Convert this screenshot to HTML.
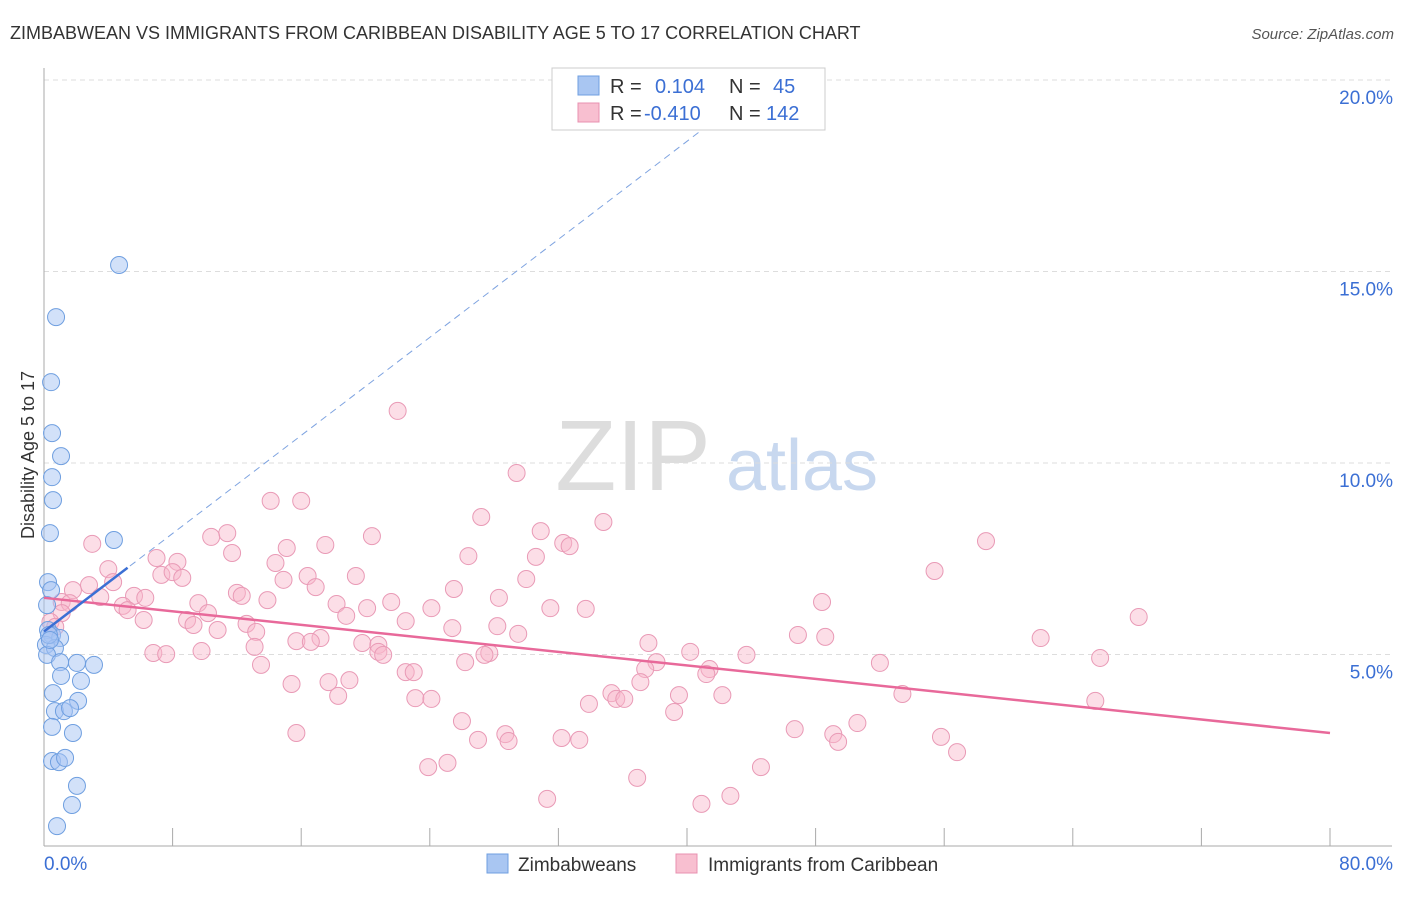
<!DOCTYPE html>
<html><head><meta charset="utf-8"><style>
body{margin:0;background:#fff;font-family:"Liberation Sans",sans-serif;}
svg text{font-family:"Liberation Sans",sans-serif;}
</style></head><body>
<svg id="chart" width="1406" height="892">
<text x="10" y="39" font-size="18" fill="#333">ZIMBABWEAN VS IMMIGRANTS FROM CARIBBEAN DISABILITY AGE 5 TO 17 CORRELATION CHART</text>
<text x="1394" y="39" font-size="15" fill="#555" font-style="italic" text-anchor="end">Source: ZipAtlas.com</text>
<g>
<text x="633" y="490" font-size="100" fill="#ddd" font-family="Liberation Serif,serif" text-anchor="middle">ZIP</text>
<text x="802" y="490" font-size="72" fill="#c8d8ef" text-anchor="middle">atlas</text>
</g>
<g id="grid"></g>
<g id="axes"></g>
<g id="points"></g>
<g id="lines"></g>
<text transform="translate(34,455) rotate(-90)" font-size="18" fill="#333" text-anchor="middle">Disability Age 5 to 17</text>
<g>
<rect x="552" y="68" width="273" height="62" fill="#fff" stroke="#ccc"/>
<rect x="578" y="76" width="21" height="19" fill="#a9c6f2" stroke="#6f9fe0"/>
<rect x="578" y="103" width="21" height="19" fill="#f8bfd0" stroke="#e890b0"/>
<text x="610" y="93" font-size="20" fill="#333">R = </text><text x="655" y="93" font-size="20" fill="#3b6fd4">0.104</text>
<text x="729" y="93" font-size="20" fill="#333">N = </text><text x="773" y="93" font-size="20" fill="#3b6fd4">45</text>
<text x="610" y="120" font-size="20" fill="#333">R = </text><text x="644" y="120" font-size="20" fill="#3b6fd4">-0.410</text>
<text x="729" y="120" font-size="20" fill="#333">N = </text><text x="766" y="120" font-size="20" fill="#3b6fd4">142</text>
</g>
<g>
<rect x="487" y="854" width="21" height="19" fill="#a9c6f2" stroke="#6f9fe0"/>
<text x="518" y="871" font-size="19" fill="#333">Zimbabweans</text>
<rect x="676" y="854" width="21" height="19" fill="#f8bfd0" stroke="#e890b0"/>
<text x="708" y="871" font-size="19" fill="#333">Immigrants from Caribbean</text>
</g>
</svg>
<script>
const yTicks=[5,10,15,20];
const yTickLabels=["5.0%","10.0%","15.0%","20.0%"];
const xTickLabels=["0.0%","80.0%"];
const blueX=[4.67,0.75,0.44,0.5,1.06,0.5,0.56,0.37,4.35,0.25,0.44,0.19,0.25,0.5,1.0,0.12,0.68,0.19,1.0,2.05,3.11,1.06,2.3,0.56,2.12,0.68,1.24,1.62,0.5,1.8,0.5,0.93,1.31,2.05,1.74,0.81,0.31,0.37];
const blueY=[15.17,13.81,12.11,10.78,10.18,9.63,9.03,8.17,7.99,6.89,6.68,6.29,5.64,5.51,5.43,5.25,5.17,4.99,4.80,4.78,4.73,4.44,4.31,3.99,3.79,3.52,3.52,3.60,3.11,2.95,2.22,2.19,2.30,1.57,1.07,0.52,5.51,5.38];
const pinkX=[22.0,29.4,14.1,16.0,27.2,34.8,30.9,11.4,10.4,20.4,32.3,32.7,3.0,58.6,17.5,15.1,11.7,7.0,26.4,30.6,8.3,14.4,4.0,55.4,7.3,8.0,8.6,19.4,30.0,16.4,4.3,14.9,2.8,25.5,16.9,1.8,12.0,12.3,28.3,5.6,6.3,3.5,1.1,1.6,4.9,13.9,21.6,48.4,9.6,5.2,31.5,33.7,24.1,18.2,20.1,10.2,1.1,6.2,18.8,8.9,9.3,12.6,22.5,68.1,10.8,25.4,28.2,13.2,0.4,0.7,17.2,29.5,62.0,46.9,48.6,37.6,19.8,20.8,15.7,16.6,6.8,7.6,9.8,13.1,20.8,21.1,27.7,27.4,43.7,40.2,26.2,38.1,52.0,65.7,13.5,22.5,23.0,37.4,41.4,41.2,15.4,17.7,19.0,37.1,35.3,35.6,36.1,23.1,24.1,18.3,39.5,42.2,53.4,33.9,65.4,26.0,50.6,39.2,15.7,28.7,28.9,27.0,32.2,33.3,46.7,49.1,55.8,49.4,56.8,23.9,25.1,44.6,36.9,31.3,40.9,42.7];
const pinkY=[11.36,9.74,9.01,9.01,8.59,8.46,8.22,8.17,8.07,8.09,7.91,7.83,7.89,7.96,7.86,7.78,7.65,7.52,7.57,7.55,7.42,7.39,7.23,7.18,7.08,7.15,7.00,7.05,6.97,7.05,6.89,6.95,6.81,6.71,6.76,6.68,6.61,6.53,6.48,6.53,6.48,6.50,6.37,6.34,6.27,6.42,6.37,6.37,6.34,6.16,6.21,6.19,6.21,6.32,6.21,6.08,6.08,5.90,6.01,5.90,5.77,5.80,5.87,5.98,5.64,5.69,5.74,5.59,5.85,5.72,5.43,5.54,5.43,5.51,5.46,5.30,5.30,5.25,5.35,5.33,5.04,5.01,5.09,5.20,5.07,4.99,5.04,4.99,4.99,5.07,4.80,4.80,4.78,4.91,4.73,4.54,4.54,4.62,4.62,4.49,4.23,4.28,4.33,4.28,3.99,3.84,3.84,3.86,3.84,3.92,3.94,3.94,3.97,3.71,3.79,3.26,3.21,3.50,2.95,2.92,2.74,2.77,2.82,2.77,3.05,2.92,2.85,2.72,2.45,2.06,2.17,2.06,1.78,1.23,1.10,1.31];
const pinkTrend=[6.48,2.95]; // y at x=0 and x=80
const blueTrend=[5.6,0.32]; // intercept, slope

const X=v=>44+v*1286/80, Y=v=>846-v*766/20;
const NS="http://www.w3.org/2000/svg";
function mk(tag,attrs,parent){const e=document.createElementNS(NS,tag);for(const k in attrs)e.setAttribute(k,attrs[k]);parent.appendChild(e);return e;}
const grid=document.getElementById('grid'),axes=document.getElementById('axes'),pts=document.getElementById('points'),lines=document.getElementById('lines');
yTicks.forEach((t,i)=>{
  const l=mk('line',{x1:44,x2:1392,y1:Y(t),y2:Y(t),stroke:'#ddd','stroke-dasharray':'5,4'},grid);
  
  
  const tx=mk('text',{x:1393,y:Y(t)+24,'font-size':19,fill:'#3b6fd4','text-anchor':'end'},axes);
  tx.textContent=yTickLabels[i];
  
  
});
const ya=mk('line',{x1:44,x2:44,y1:68,y2:846,stroke:'#aaa'},axes);


const xa=mk('line',{x1:44,x2:1392,y1:846,y2:846,stroke:'#aaa'},axes);


for(let v=0;v<=80;v+=8){
  const tk=mk('line',{x1:X(v),x2:X(v),y1:828,y2:846,stroke:'#aaa'},axes);
  
  
}
[[0,'start',44],[80,'end',1393]].forEach(([v,a,px],i)=>{
  const t=mk('text',{x:px,y:870,'font-size':19,fill:'#3b6fd4','text-anchor':a},axes);
  t.textContent=xTickLabels[i];
  
  
});
pinkX.forEach((x,i)=>{
  const c=mk('circle',{cx:X(x),cy:Y(pinkY[i]),r:8.5,fill:'rgba(248,182,202,0.45)',stroke:'#e99ab6','stroke-width':1},pts);
  
  
});
blueX.forEach((x,i)=>{
  const c=mk('circle',{cx:X(x),cy:Y(blueY[i]),r:8.5,fill:'rgba(166,196,244,0.5)',stroke:'#6f9fe0','stroke-width':1},pts);
  
  
});
const pl=mk('line',{x1:X(0),y1:Y(pinkTrend[0]),x2:X(80),y2:Y(pinkTrend[1]),stroke:'#e8699a','stroke-width':2.5},lines);


const xEnd=(20-blueTrend[0])/blueTrend[1];
const bd=mk('line',{x1:X(0),y1:Y(blueTrend[0]),x2:X(xEnd),y2:Y(20),stroke:'#7ea3e0','stroke-width':1,'stroke-dasharray':'7,5'},lines);


const bs=mk('line',{x1:X(0),y1:Y(blueTrend[0]),x2:X(5.2),y2:Y(blueTrend[0]+blueTrend[1]*5.2),stroke:'#3b6fd4','stroke-width':2.5},lines);


</script>
</body></html>
